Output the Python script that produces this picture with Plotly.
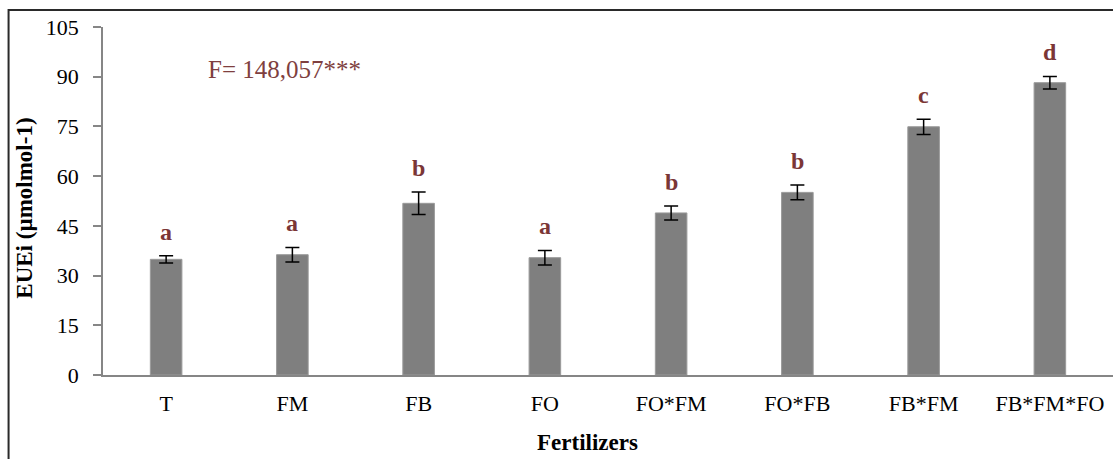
import plotly.graph_objects as go

# Fertilizer treatments and measured EUEi means with standard errors
categories = ["T", "FM", "FB", "FO", "FO*FM", "FO*FB", "FB*FM", "FB*FM*FO"]
means = [34.9, 36.3, 51.8, 35.4, 48.9, 55.1, 74.9, 88.2]
errors = [1.1, 2.2, 3.4, 2.2, 2.1, 2.2, 2.3, 1.9]
groups = ["a", "a", "b", "a", "b", "b", "c", "d"]
y_ticks = [0, 15, 30, 45, 60, 75, 90, 105]
f_stat = "F= 148,057***"

serif = "Liberation Serif, Times New Roman, serif"
label_red = "#7B3636"
axis_grey = "#868686"

fig = go.Figure()
fig.add_trace(go.Bar(
    x=categories,
    y=means,
    width=0.25,
    marker=dict(color="#7F7F7F", line=dict(color="#9A9A9A", width=1)),
    error_y=dict(type="data", array=errors, visible=True,
                 color="black", thickness=1.5, width=7),
    showlegend=False,
    hoverinfo="skip",
))

# Significance-group letters above each error bar
for cat, m, e, g in zip(categories, means, errors, groups):
    fig.add_annotation(
        x=cat, y=m + e, text=f"<b>{g}</b>", showarrow=False,
        yanchor="bottom", yshift=9,
        font=dict(family=serif, size=24, color=label_red),
    )

fig.add_annotation(
    x=0.102, y=0.879, xref="paper", yref="paper", xanchor="left",
    yanchor="middle", text=f_stat, showarrow=False,
    font=dict(family=serif, size=25, color="#7F3F3F"),
)

fig.add_annotation(
    x=-0.0772, y=0.478, xref="paper", yref="paper", textangle=-90,
    xanchor="center", yanchor="middle", showarrow=False,
    text="<b>EUEi (µmolmol-1)</b>",
    font=dict(family=serif, size=23, color="black"),
)

fig.add_annotation(
    x=0.480, y=-0.195, xref="paper", yref="paper",
    xanchor="center", yanchor="middle", showarrow=False,
    text="<b>Fertilizers</b>",
    font=dict(family=serif, size=23, color="black"),
)

# Outer frame of the chart
fig.add_shape(
    type="rect", xref="paper", yref="paper",
    x0=-0.0935, x1=1.05, y0=-0.5, y1=1.0489,
    line=dict(color="#2A2A2A", width=2), fillcolor="rgba(0,0,0,0)",
)

fig.update_layout(
    width=1113, height=459,
    margin=dict(l=103, r=0, t=27, b=84),
    plot_bgcolor="white", paper_bgcolor="white",
    font=dict(family=serif, size=22, color="black"),
    bargap=0.75,
)
fig.update_xaxes(
    type="category", showline=True, linecolor=axis_grey, linewidth=1.5,
    ticks="", showgrid=False, tickfont=dict(family=serif, size=22),
    ticklabelstandoff=8,
)
fig.update_yaxes(
    range=[0, 105], tickvals=y_ticks, showline=True, linecolor=axis_grey,
    linewidth=1.5, ticks="outside", ticklen=8, tickcolor=axis_grey,
    tickwidth=1.5, showgrid=False, zeroline=False,
    tickfont=dict(family=serif, size=22), ticklabelstandoff=10,
)

fig.write_html("out.html")
